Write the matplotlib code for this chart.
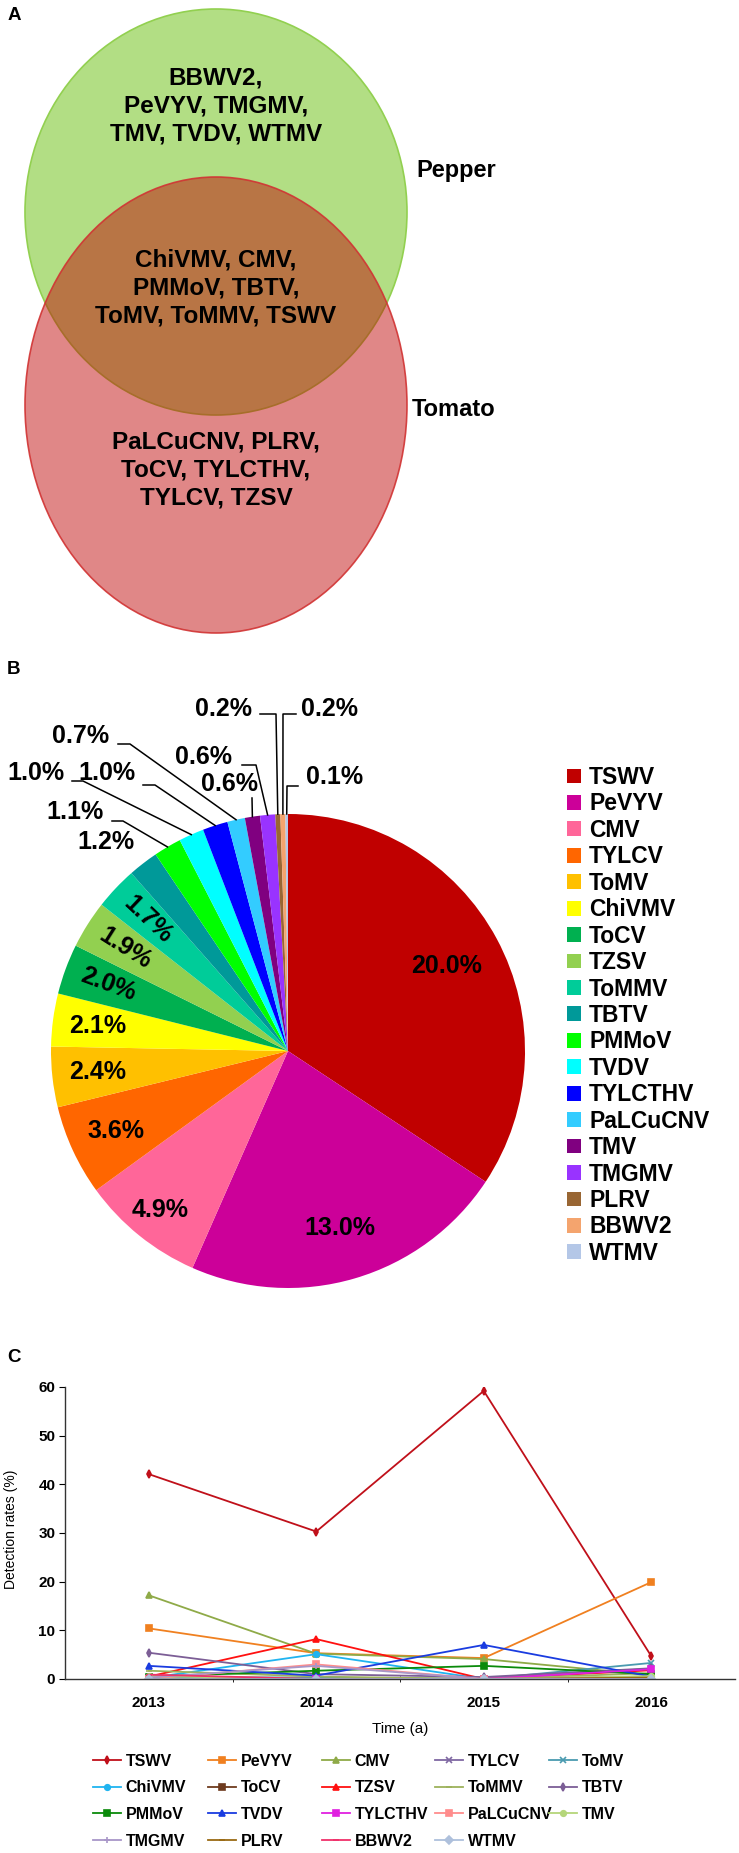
import numpy as np
import matplotlib.pyplot as plt
from matplotlib.patches import Ellipse

W, H = 739, 1853
plt.rcParams['font.family'] = ['Liberation Sans', 'DejaVu Sans']
plt.rcParams['font.weight'] = 'bold'

# ---- panel A: Venn text ----
pepper_only = ["BBWV2,", "PeVYV, TMGMV,", "TMV, TVDV, WTMV"]
shared = ["ChiVMV, CMV,", "PMMoV, TBTV,", "ToMV, ToMMV, TSWV"]
tomato_only = ["PaLCuCNV, PLRV,", "ToCV, TYLCTHV,", "TYLCV, TZSV"]

# ---- panel B: share of each virus (%) ----
viruses = ["TSWV", "PeVYV", "CMV", "TYLCV", "ToMV", "ChiVMV", "ToCV", "TZSV",
           "ToMMV", "TBTV", "PMMoV", "TVDV", "TYLCTHV", "PaLCuCNV", "TMV",
           "TMGMV", "PLRV", "BBWV2", "WTMV"]
share = [20.0, 13.0, 4.9, 3.6, 2.4, 2.1, 2.0, 1.9, 1.7, 1.2, 1.1, 1.0, 1.0,
         0.7, 0.6, 0.6, 0.2, 0.2, 0.1]
pie_colors = ["#C00000", "#CC0099", "#FF6699", "#FF6600", "#FFC000", "#FFFF00",
              "#00B050", "#92D050", "#00CC99", "#009999", "#00FF00", "#00FFFF",
              "#0000FF", "#33CCFF", "#800080", "#9933FF", "#996633", "#F4A46E",
              "#B4C7E7"]

# ---- panel C: detection rates (%) per year ----
years = ["2013", "2014", "2015", "2016"]
tswv = [42.1, 30.3, 59.2, 4.7]
pevyv = [10.4, 5.3, 4.3, 19.9]
cmv = [17.2, 5.2, 4.1, 0.8]
tylcv = [0.3, 0.2, 0.0, 2.1]
tomv = [0.4, 0.3, 0.0, 3.3]
chivmv = [0.2, 5.1, 0.0, 0.3]
tocv = [0.0, 0.0, 0.0, 0.5]
tzsv = [0.5, 8.2, 0.0, 1.8]
tommv = [1.7, 0.5, 0.0, 1.2]
tbtv = [5.4, 1.0, 0.4, 2.2]
pmmov = [0.5, 1.7, 2.7, 1.0]
tvdv = [2.7, 0.7, 7.0, 0.5]
tylcthv = [0.0, 0.0, 0.0, 2.0]
palcucnv = [0.0, 3.0, 0.0, 0.0]
tmv = [0.6, 0.0, 0.0, 0.6]
tmgmv = [0.3, 2.7, 0.0, 0.2]
plrv = [0.0, 0.0, 0.0, 0.3]
bbwv2 = [0.9, 0.0, 0.0, 0.0]
wtmv = [0.0, 0.0, 0.0, 0.0]
series = [tswv, pevyv, cmv, tylcv, tomv, chivmv, tocv, tzsv, tommv, tbtv,
          pmmov, tvdv, tylcthv, palcucnv, tmv, tmgmv, plrv, bbwv2, wtmv]
line_colors = ["#C0101A", "#F08020", "#8FAA48", "#7F68A2", "#4A9BB0", "#20B4F0",
               "#6E3B1E", "#FF1010", "#9DB25C", "#7C5E96", "#0A8A0A", "#1A3CE0",
               "#E020E0", "#FF8C8C", "#B5D67A", "#A896C8", "#9A6A14", "#F0306A",
               "#AEC0DC"]
line_markers = ["d", "s", "^", "x", "x", "o", "s", "^", "_", "d", "s", "^", "s",
                "s", "o", "+", "_", "_", "D"]


def fx(x):
    return x / W


def fy(y):
    return 1 - y / H


fig = plt.figure(figsize=(W / 100, H / 100), dpi=100)

# overlay axes in pixel units (y downwards) for panel A and panel letters
ax = fig.add_axes([0, 0, 1, 1])
ax.set_xlim(0, W)
ax.set_ylim(H, 0)
ax.axis("off")

ax.add_patch(Ellipse((216, 212), 382, 406, facecolor=(0.573, 0.816, 0.314, 0.7),
                     edgecolor="#92D050", lw=1.2))
ax.add_patch(Ellipse((216, 405), 382, 456, facecolor=(0.75, 0.0, 0.0, 0.47),
                     edgecolor=(0.82, 0.2, 0.2, 0.9), lw=1.2))

for lines, y0 in [(pepper_only, 78), (shared, 260), (tomato_only, 442)]:
    for i, s in enumerate(lines):
        ax.text(216, y0 + 28 * i, s, ha="center", va="center", fontsize=17.5)

ax.text(416, 170, "Pepper", ha="left", va="center", fontsize=17)
ax.text(412, 410, "Tomato", ha="left", va="center", fontsize=17)

for letter, y in [("A", 15), ("B", 670), ("C", 1357)]:
    ax.text(14, y, letter, ha="center", va="center", fontsize=13.5)

# ---- panel B ----
cx, cy, R = 288, 1051, 237
axb = fig.add_axes([fx(cx - R), fy(cy + R), 2 * R / W, 2 * R / H])
wedges, _ = axb.pie(share, colors=pie_colors, startangle=90, counterclock=False,
                    wedgeprops=dict(linewidth=0))
axb.set_xlim(-1, 1)
axb.set_ylim(-1, 1)
axb.set_aspect("equal")


def pu(x, y):
    return (x - cx) / R, (cy - y) / R


mids = [np.deg2rad((w.theta1 + w.theta2) / 2) for w in wedges]
inner_r = [0.76, 0.78, 0.86, 0.8, 0.81, 0.81, 0.81, 0.81, 0.81]
rotated = {6, 7, 8}
for i, r in enumerate(inner_r):
    a = mids[i]
    rot = np.rad2deg(a) - 180 if i in rotated else 0
    axb.text(r * np.cos(a), r * np.sin(a), f"{share[i]:.1f}%", ha="center",
             va="center", fontsize=18, rotation=rot, rotation_mode="anchor")

# label placement for the thin slices: (label x, label y, line start x, elbow x, line y) in px
outer_layout = {
    9: (106, 842, None, None, None),
    10: (75, 812, 112, 123, 821),
    11: (36, 773, 72, 83, 781),
    12: (107, 773, 143, 155, 785),
    13: (81, 736, 118, 130, 744),
    14: (229, 784, 252, 252, 798),
    15: (204, 757, 242, 256, 765),
    16: (224, 709, 260, 276, 714),
    17: (330, 709, 296, 283, 714),
    18: (335, 777, 298, 287, 786),
}
for i, (lx, ly, sx, ex, ly2) in outer_layout.items():
    axb.text(*pu(lx, ly), f"{share[i]:.1f}%", ha="center", va="center",
             fontsize=18, clip_on=False)
    if sx is None:
        continue
    a = mids[i]
    p0 = pu(sx, ly2)
    p1 = pu(ex, ly2)
    axb.plot([p0[0], p1[0], np.cos(a)], [p0[1], p1[1], np.sin(a)], color="black",
             lw=1.1, clip_on=False)

axb.legend(wedges, viruses, loc="upper left", bbox_to_anchor=(fx(567), fy(766)),
           bbox_transform=fig.transFigure, frameon=False, borderpad=0,
           borderaxespad=0, handlelength=0.62, handleheight=0.62,
           handletextpad=0.35, labelspacing=0.15, fontsize=16.5)

# ---- panel C ----
axc = fig.add_axes([fx(65), fy(1679), 670 / W, 292 / H])
x = np.arange(len(years))
handles = []
for name, vals, c, m in zip(viruses, series, line_colors, line_markers):
    h, = axc.plot(x, vals, color=c, marker=m, markersize=4, lw=1.3, label=name,
                  mew=1.2)
    handles.append(h)
axc.set_xlim(-0.5, 3.5)
axc.set_ylim(0, 60)
axc.set_xticks(x)
axc.set_xticklabels(years)
axc.set_xticks([0.5, 1.5, 2.5], minor=True)
axc.set_yticks(range(0, 61, 10))
axc.spines["top"].set_visible(False)
axc.spines["right"].set_visible(False)
for s in ["left", "bottom"]:
    axc.spines[s].set_color("#333333")
    axc.spines[s].set_linewidth(1.0)
axc.tick_params(axis="x", which="major", length=0, pad=12, labelsize=11)
axc.tick_params(axis="x", which="minor", length=4, direction="inout")
axc.tick_params(axis="y", length=4, pad=3, labelsize=11)
axc.set_xlabel("Time (a)", fontsize=11)
axc.xaxis.set_label_coords(0.5, (1679 - 1722) / 292)
axc.set_ylabel("Detection rates (%)", fontsize=10)
axc.yaxis.set_label_coords((18 - 65) / 670, (1679 - 1529) / 292)

col_x = [93, 208, 322, 435, 549]
for j, x0 in enumerate(col_x):
    hs = handles[j::5]
    fig.legend(hs, [h.get_label() for h in hs], loc="upper left",
               bbox_to_anchor=(fx(x0), fy(1754)), frameon=False, borderpad=0,
               borderaxespad=0, handlelength=1.75, handletextpad=0.3,
               labelspacing=0.72, fontsize=11.5)

fig.savefig("out.png", dpi=100)
